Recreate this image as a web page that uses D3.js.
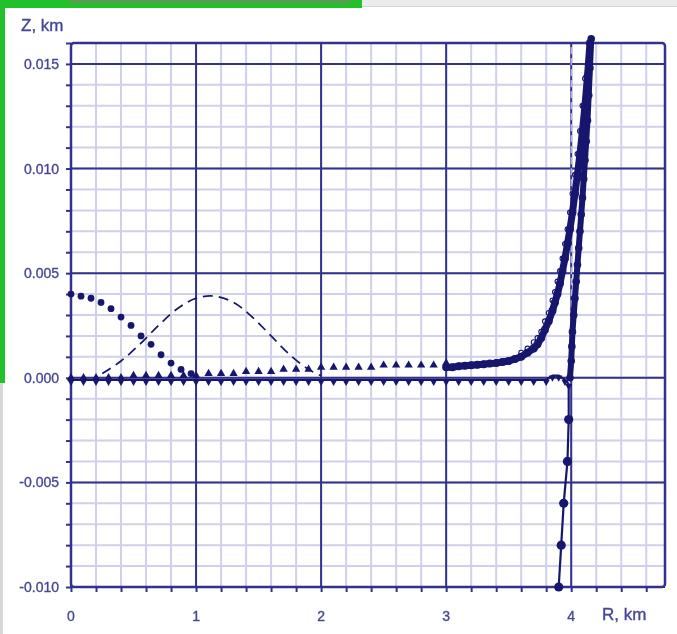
<!DOCTYPE html>
<html>
<head>
<meta charset="utf-8">
<script src="https://cdn.jsdelivr.net/npm/d3@7/dist/d3.min.js"></script>
<style>
  html, body { margin: 0; padding: 0; background: #ffffff; }
  svg { display: block; }
</style>
</head>
<body>
<div id="chart"></div>
<script>
"use strict";

// tick labels
const yTicks = [0.015, 0.010, 0.005, 0.000, -0.005, -0.010];
const yTickLabels = ["0.015", "0.010", "0.005", "0.000", "-0.005", "-0.010"];
const xTicks = [0, 1, 2, 3, 4];
const xTickLabels = ["0", "1", "2", "3", "4"];

// dotted bump at the origin (filled dots, no line)
const dotR = [0, 0.08, 0.16, 0.24, 0.32, 0.40, 0.48, 0.56, 0.64, 0.72, 0.80, 0.88, 0.96];
const dotZ = [0.0040, 0.0039, 0.0038, 0.0036, 0.0033, 0.0029, 0.0025, 0.0020, 0.0016, 0.0011, 0.0007, 0.0004, 0.0002];

// dashed bump
const dashR = [0.25, 0.4, 0.55, 0.7, 0.85, 1.0, 1.15, 1.3, 1.45, 1.6, 1.75, 1.9, 2.0];
const dashZ = [0.0002, 0.0008, 0.0016, 0.0025, 0.0033, 0.0038, 0.0039, 0.0036, 0.0029, 0.0020, 0.0011, 0.0004, 0.0001];

// triangles slightly above zero
const triR = [0, 0.1, 0.2, 0.3, 0.4, 0.5, 0.6, 0.7, 0.8, 0.9, 1.0, 1.1, 1.2, 1.3, 1.4, 1.5, 1.6, 1.7, 1.8, 1.9, 2.0, 2.1, 2.2, 2.3, 2.4, 2.5, 2.6, 2.7, 2.8, 2.9, 3.0];
const triZ = [0.0000, 0.0000, 0.0000, 0.0000, 0.0000, 0.0001, 0.0001, 0.0001, 0.0001, 0.0001, 0.0001, 0.0002, 0.0002, 0.0002, 0.0003, 0.0003, 0.0003, 0.0004, 0.0004, 0.0004, 0.0005, 0.0005, 0.0005, 0.0005, 0.0005, 0.0006, 0.0006, 0.0006, 0.0006, 0.0006, 0.0007];

// thick exponential band (filled circles)
const expR = [3.0, 3.05, 3.1, 3.15, 3.2, 3.25, 3.3, 3.35, 3.4, 3.45, 3.5, 3.55, 3.6, 3.65, 3.7, 3.73, 3.76, 3.79, 3.82, 3.85, 3.87, 3.89, 3.91, 3.93, 3.95, 3.97, 3.99, 4.01, 4.03, 4.05, 4.07, 4.09, 4.11, 4.13, 4.15];
const expZ = [0.0005, 0.0005, 0.00055, 0.00058, 0.0006, 0.00062, 0.00065, 0.00068, 0.0007, 0.00075, 0.0008, 0.0009, 0.0010, 0.0012, 0.0014, 0.0016, 0.0019, 0.0023, 0.0027, 0.0032, 0.0036, 0.0040, 0.0045, 0.0051, 0.0057, 0.0064, 0.0071, 0.0079, 0.0088, 0.0097, 0.0107, 0.0118, 0.0130, 0.0144, 0.0160];

// open circles just above the band
const openR = [3.6, 3.65, 3.7, 3.73, 3.76, 3.79, 3.82, 3.85, 3.87, 3.89, 3.91, 3.93, 3.95, 3.97, 3.99, 4.01, 4.03, 4.05, 4.07, 4.09, 4.11];
const openZ = [0.0012, 0.0014, 0.0017, 0.0019, 0.0022, 0.0027, 0.0031, 0.0037, 0.0041, 0.0046, 0.0051, 0.0057, 0.0064, 0.0071, 0.0079, 0.0088, 0.0097, 0.0107, 0.0118, 0.0130, 0.0143];

// steep rise at R ~ 4
const steepR = [3.99, 4.0, 4.005, 4.01, 4.02, 4.03, 4.04, 4.05, 4.06, 4.07, 4.08, 4.09, 4.10, 4.11, 4.12, 4.13, 4.14, 4.15, 4.16];
const steepZ = [0.0000, 0.0008, 0.0015, 0.0022, 0.0030, 0.0038, 0.0046, 0.0054, 0.0062, 0.0070, 0.0078, 0.0086, 0.0095, 0.0104, 0.0113, 0.0123, 0.0135, 0.0148, 0.0162];

// line along zero that drops down to -0.010
const botR = [0, 0.1, 0.2, 0.3, 0.4, 0.5, 0.6, 0.7, 0.8, 0.9, 1.0, 1.1, 1.2, 1.3, 1.4, 1.5, 1.6, 1.7, 1.8, 1.9, 2.0, 2.1, 2.2, 2.3, 2.4, 2.5, 2.6, 2.7, 2.8, 2.9, 3.0, 3.1, 3.2, 3.3, 3.4, 3.5, 3.6, 3.7, 3.8, 3.85, 3.9, 3.95, 3.98, 3.98, 3.97, 3.94, 3.92, 3.90];
const botZ = [-0.0001, -0.0001, -0.0001, -0.0001, -0.0001, -0.0001, -0.0001, -0.0001, -0.0001, -0.0001, -0.0001, -0.0001, -0.0001, -0.0001, -0.0001, -0.0001, -0.0001, -0.0001, -0.0001, -0.0001, -0.0001, -0.0001, -0.0001, -0.0001, -0.0001, -0.0001, -0.0001, -0.0001, -0.0001, -0.0001, -0.0001, -0.0001, -0.0001, -0.0001, -0.0001, -0.0001, -0.0001, -0.0001, -0.0001, 0.0001, 0.0001, -0.0001, -0.0003, -0.0020, -0.0040, -0.0060, -0.0080, -0.0100];

const NAVY = "#15156e";
const GRID_MAJOR = "#33338c";
const GRID_MINOR = "#d0d0ea";
const TEXT = "#45459a";

const width = 677, height = 634;
const svg = d3.select("#chart").append("svg").attr("width", width).attr("height", height);
const defs = svg.append("defs");
defs.append("filter").attr("id", "soft").append("feGaussianBlur").attr("stdDeviation", 0.45);

// screenshot frame remnants
svg.append("rect").attr("x", 0).attr("y", 0).attr("width", 362).attr("height", 8).attr("fill", "#22c02a");
svg.append("rect").attr("x", 70).attr("y", 0).attr("width", 280).attr("height", 3).attr("fill", "#5f9a55");
svg.append("rect").attr("x", 362).attr("y", 0).attr("width", 315).attr("height", 6).attr("fill", "#ececec");
svg.append("line").attr("x1", 362).attr("x2", 677).attr("y1", 6.5).attr("y2", 6.5).attr("stroke", "#d4d4d4");
svg.append("rect").attr("x", 0).attr("y", 0).attr("width", 5).attr("height", 383).attr("fill", "#22c02a");
svg.append("rect").attr("x", 0).attr("y", 383).attr("width", 3).attr("height", 251).attr("fill", "#d8d8d8");

const x = d3.scaleLinear().domain([0, 4.75]).range([71, 665]);
const y = d3.scaleLinear().domain([-0.010, 0.016]).range([587, 43]);

const chart = svg.append("g").attr("filter", "url(#soft)");

// minor grid
const xMinor = d3.range(0, 4.75, 0.2);
const yMinor = d3.range(-0.010, 0.0161, 0.001);
const grid = chart.append("g");
grid.selectAll("line.xm").data(xMinor).join("line").attr("class", "xm")
  .attr("x1", d => x(d)).attr("x2", d => x(d)).attr("y1", y(0.016)).attr("y2", y(-0.010))
  .attr("stroke", GRID_MINOR).attr("stroke-width", 2);
grid.selectAll("line.ym").data(yMinor).join("line").attr("class", "ym")
  .attr("x1", x(0)).attr("x2", x(4.75)).attr("y1", d => y(d)).attr("y2", d => y(d))
  .attr("stroke", GRID_MINOR).attr("stroke-width", 2);

// major grid
grid.selectAll("line.xM").data(xTicks).join("line").attr("class", "xM")
  .attr("x1", d => x(d)).attr("x2", d => x(d)).attr("y1", y(0.016)).attr("y2", y(-0.010))
  .attr("stroke", GRID_MAJOR).attr("stroke-width", 2);
grid.selectAll("line.yM").data(yTicks).join("line").attr("class", "yM")
  .attr("x1", x(0)).attr("x2", x(4.75)).attr("y1", d => y(d)).attr("y2", d => y(d))
  .attr("stroke", GRID_MAJOR).attr("stroke-width", 2);
// white dashes over the R = 4 line
grid.append("line").attr("x1", x(4)).attr("x2", x(4)).attr("y1", y(0.0158)).attr("y2", y(0.0006))
  .attr("stroke", "#ffffff").attr("stroke-width", 0.9).attr("stroke-dasharray", "7,4");

// frame with a rounded top-right corner
chart.append("rect").attr("x", x(0)).attr("y", y(0.016)).attr("width", x(4.75) - x(0)).attr("height", y(-0.010) - y(0.016))
  .attr("rx", 3).attr("fill", "none").attr("stroke", GRID_MAJOR).attr("stroke-width", 2.5);

// axes with outward minor ticks
const yAxis = d3.axisLeft(y).tickValues(yMinor).tickSize(5).tickFormat("");
chart.append("g").attr("transform", "translate(" + x(0) + ",0)").call(yAxis)
  .call(g => g.select(".domain").remove())
  .call(g => g.selectAll("line").attr("stroke", GRID_MAJOR).attr("stroke-width", 2));
const xAxis = d3.axisBottom(x).tickValues(xMinor).tickSize(5).tickFormat("");
chart.append("g").attr("transform", "translate(0," + y(-0.010) + ")").call(xAxis)
  .call(g => g.select(".domain").remove())
  .call(g => g.selectAll("line").attr("stroke", GRID_MAJOR).attr("stroke-width", 2));

// tick labels
const font = "'Liberation Sans', Arial, sans-serif";
const styleText = sel => sel.attr("font-family", font).attr("fill", TEXT).attr("stroke", TEXT).attr("stroke-width", 0.35);
chart.append("g").selectAll("text").data(yTicks).join("text")
  .attr("x", 59).attr("y", d => y(d) + 5).attr("text-anchor", "end").attr("font-size", 14)
  .call(styleText).text((d, i) => yTickLabels[i]);
chart.append("g").selectAll("text").data(xTicks).join("text")
  .attr("x", d => x(d)).attr("y", 621).attr("text-anchor", "middle").attr("font-size", 14)
  .call(styleText).text((d, i) => xTickLabels[i]);
chart.append("text").attr("x", 21).attr("y", 31).attr("font-size", 17).call(styleText).text("Z, km");
chart.append("text").attr("x", 602).attr("y", 620).attr("font-size", 17).call(styleText).text("R, km");

const plot = chart.append("g");
const pts = (rs, zs) => rs.map((r, i) => ({ r: r, z: zs[i] }));
const line = d3.line().x(d => x(d.r)).y(d => y(d.z));

// dashed bump
plot.append("path").datum(pts(dashR, dashZ)).attr("d", line.curve(d3.curveCatmullRom))
  .attr("fill", "none").attr("stroke", NAVY).attr("stroke-width", 1.7).attr("stroke-dasharray", "10,6");
line.curve(d3.curveLinear);

// dotted bump
plot.selectAll("circle.dot").data(pts(dotR, dotZ)).join("circle").attr("class", "dot")
  .attr("cx", d => x(d.r)).attr("cy", d => y(d.z)).attr("r", 3.4).attr("fill", NAVY);

// triangles
const tri = d3.symbol().type(d3.symbolTriangle).size(30);
plot.selectAll("path.tri").data(pts(triR, triZ)).join("path").attr("class", "tri")
  .attr("transform", d => "translate(" + x(d.r) + "," + y(d.z) + ")").attr("d", tri).attr("fill", NAVY);

// zero line dropping down
const bot = pts(botR, botZ);
plot.append("path").datum(bot).attr("d", line).attr("fill", "none").attr("stroke", NAVY).attr("stroke-width", 2.2);
const triDown = d3.symbol().type(d3.symbolTriangle).size(22);
plot.selectAll("path.bot").data(bot.filter(d => d.z > -0.001)).join("path").attr("class", "bot")
  .attr("transform", d => "translate(" + x(d.r) + "," + (y(d.z) + 2) + ") rotate(180)").attr("d", triDown).attr("fill", NAVY);
plot.selectAll("circle.bot").data(bot.filter(d => d.z <= -0.0015)).join("circle").attr("class", "bot")
  .attr("cx", d => x(d.r)).attr("cy", d => y(d.z)).attr("r", 4.6).attr("fill", NAVY);

// open circles (mostly hidden under the band)
const open = pts(openR, openZ);
plot.append("path").datum(open).attr("d", line).attr("fill", "none").attr("stroke", "#8a8ac0").attr("stroke-width", 0.8);
plot.selectAll("circle.open").data(open).join("circle").attr("class", "open")
  .attr("cx", d => x(d.r)).attr("cy", d => y(d.z)).attr("r", 2.4).attr("fill", "#ffffff").attr("stroke", NAVY).attr("stroke-width", 1.1);

// steep rise
const steep = pts(steepR, steepZ);
plot.append("path").datum(steep).attr("d", line).attr("fill", "none").attr("stroke", NAVY).attr("stroke-width", 6);
plot.selectAll("circle.steep").data(steep).join("circle").attr("class", "steep")
  .attr("cx", d => x(d.r)).attr("cy", d => y(d.z)).attr("r", 3.8).attr("fill", NAVY);

// thick exponential band
const band = pts(expR, expZ);
plot.append("path").datum(band).attr("d", line).attr("fill", "none").attr("stroke", NAVY).attr("stroke-width", 7);
plot.selectAll("circle.band").data(band).join("circle").attr("class", "band")
  .attr("cx", d => x(d.r)).attr("cy", d => y(d.z)).attr("r", 4).attr("fill", NAVY);
</script>
</body>
</html>
